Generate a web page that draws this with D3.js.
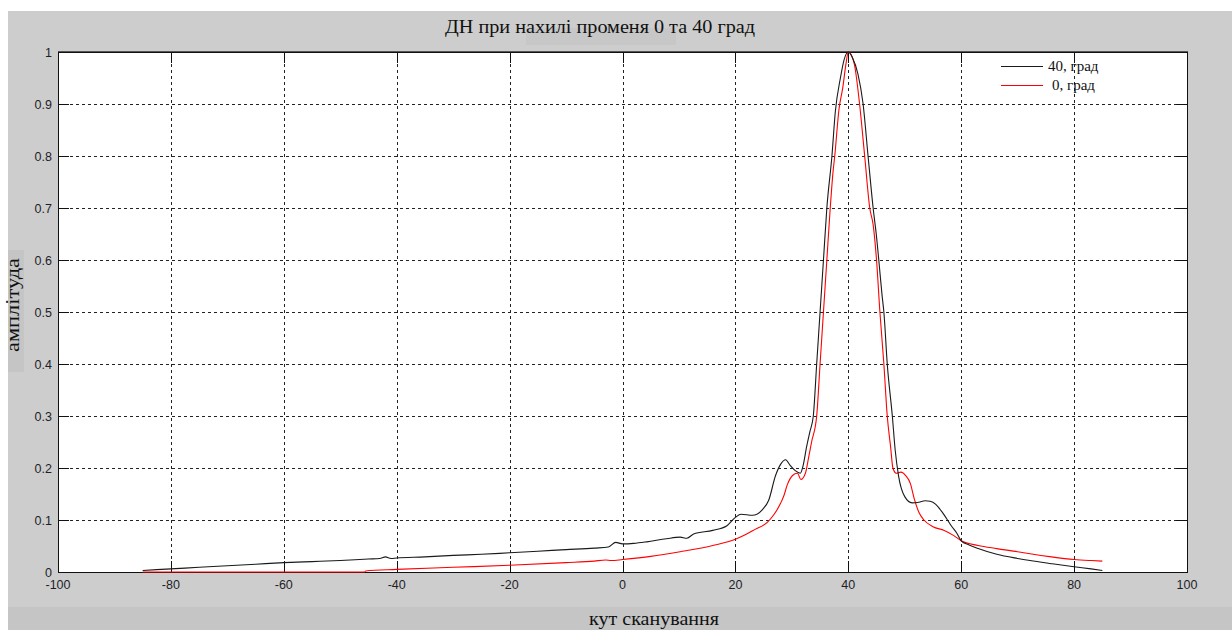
<!DOCTYPE html>
<html>
<head>
<meta charset="utf-8">
<script src="https://cdn.jsdelivr.net/npm/d3@7"></script>
<style>
  html, body { margin: 0; padding: 0; background: #ffffff; }
  svg { display: block; }
</style>
</head>
<body>
<svg id="chart" width="1232" height="630"></svg>
<script>
// Beam pattern at 40 degree tilt (black) and 0 degree (red)
const angle40 = [-85,-80,-75,-70,-65,-60,-55,-50,-45,-43,-42,-41,-40,-35,-30,-25,-20,-15,-10,-5,-2.5,-1.2,0,2,4.3,7.8,10.2,11.4,12.6,16,18.5,20,21,23,24.8,25.9,27.1,28,28.9,29.7,30.6,31.5,32,32.6,33.2,33.8,34.4,35,35.6,36.2,37.1,37.7,38.6,39.25,40,40.7,41.7,42.6,43.5,44.4,45,45.4,46,46.3,46.9,47.8,48.3,48.9,50,51.3,52.5,53.6,54.5,55.5,56.5,57.4,58.3,59.2,60,61.4,63,66.3,70,72.2,76,80,83,85];
const amp40 = [0.003,0.006,0.009,0.012,0.015,0.018,0.020,0.022,0.025,0.026,0.029,0.026,0.027,0.029,0.032,0.034,0.037,0.040,0.043,0.046,0.048,0.057,0.054,0.055,0.058,0.064,0.067,0.065,0.073,0.080,0.089,0.105,0.111,0.109,0.120,0.138,0.185,0.207,0.216,0.205,0.195,0.190,0.205,0.240,0.27,0.30,0.40,0.50,0.60,0.70,0.80,0.885,0.950,0.985,1.0,0.99,0.958,0.902,0.80,0.70,0.645,0.60,0.53,0.50,0.40,0.30,0.235,0.185,0.145,0.133,0.134,0.137,0.136,0.130,0.117,0.103,0.088,0.075,0.060,0.052,0.045,0.034,0.026,0.022,0.016,0.010,0.006,0.003];

const angle0 = [-85,-45.7,-45.5,-40,-30,-20,-10,-5,-3,-2,0,5,10.2,16,20,22,23.5,25.6,26.8,28,28.6,29.2,30.4,31,31.6,32.4,33,33.5,34.4,35,35.6,36.2,36.8,37.3,37.6,38.35,39,39.6,40,40.5,41.1,42,42.9,43.8,44.4,45,45.6,46.3,46.9,47.5,47.9,48.5,49.3,50.2,51,51.7,52.5,53.4,55,57,58.7,60,63,66.3,70,72.2,76,80,83,85];
const amp0 = [0,0,0.002,0.005,0.009,0.013,0.018,0.021,0.023,0.022,0.024,0.030,0.039,0.051,0.063,0.073,0.082,0.095,0.110,0.132,0.147,0.168,0.188,0.190,0.178,0.190,0.222,0.250,0.30,0.40,0.50,0.60,0.70,0.77,0.80,0.89,0.93,0.978,1.0,0.995,0.975,0.90,0.80,0.70,0.668,0.60,0.50,0.40,0.30,0.24,0.20,0.19,0.192,0.185,0.17,0.14,0.115,0.10,0.087,0.080,0.070,0.060,0.051,0.045,0.039,0.035,0.029,0.024,0.022,0.021];

const xTicks = [-100,-80,-60,-40,-20,0,20,40,60,80,100];
const yTicks = [0,0.1,0.2,0.3,0.4,0.5,0.6,0.7,0.8,0.9,1];
const seriesNames = ["40, град", "0, град"];
const seriesColors = ["#1a1a1a", "#ff0000"];

const svg = d3.select("#chart");
const W = 1232, H = 630;
const plot = { left: 58, right: 1187, top: 52, bottom: 572 };

// figure background
svg.append("rect").attr("x", 8).attr("y", 11).attr("width", W - 8).attr("height", H - 11).attr("fill", "#cdcdcd");
svg.append("rect").attr("x", 8).attr("y", 607).attr("width", W - 8).attr("height", H - 607).attr("fill", "#c5c5c5");
svg.append("rect").attr("x", 8).attr("y", 250).attr("width", 16).attr("height", 122).attr("fill", "#c5c5c5");
svg.append("rect").attr("x", 526).attr("y", 28).attr("width", 150).attr("height", 17).attr("fill", "#c7c7c7");

const x = d3.scaleLinear().domain([-100, 100]).range([plot.left, plot.right]);
const y = d3.scaleLinear().domain([0, 1]).range([plot.bottom, plot.top]);

// axes area
svg.append("rect")
  .attr("x", plot.left).attr("y", plot.top)
  .attr("width", plot.right - plot.left).attr("height", plot.bottom - plot.top)
  .attr("fill", "#ffffff");

const g = svg.append("g");
const tickLen = 11;

// dotted grid
g.selectAll(".vgrid").data(xTicks.filter(t => t > -100 && t < 100)).enter().append("line")
  .attr("x1", d => Math.round(x(d)) + 0.5).attr("x2", d => Math.round(x(d)) + 0.5)
  .attr("y1", plot.top).attr("y2", plot.bottom)
  .attr("stroke", "#222").attr("stroke-width", 1).attr("stroke-dasharray", "3,3");
g.selectAll(".hgrid").data(yTicks.filter(t => t > 0 && t < 1)).enter().append("line")
  .attr("y1", d => Math.round(y(d)) + 0.5).attr("y2", d => Math.round(y(d)) + 0.5)
  .attr("x1", plot.left).attr("x2", plot.right)
  .attr("stroke", "#222").attr("stroke-width", 1).attr("stroke-dasharray", "3,3");

// inward tick marks on all four sides
xTicks.forEach(t => {
  const px = Math.round(x(t)) + 0.5;
  g.append("line").attr("x1", px).attr("x2", px).attr("y1", plot.bottom).attr("y2", plot.bottom - tickLen).attr("stroke", "#111");
  g.append("line").attr("x1", px).attr("x2", px).attr("y1", plot.top).attr("y2", plot.top + tickLen).attr("stroke", "#111");
});
yTicks.forEach(t => {
  const py = Math.round(y(t)) + 0.5;
  g.append("line").attr("y1", py).attr("y2", py).attr("x1", plot.left).attr("x2", plot.left + tickLen).attr("stroke", "#111");
  g.append("line").attr("y1", py).attr("y2", py).attr("x1", plot.right).attr("x2", plot.right - tickLen).attr("stroke", "#111");
});

// frame
g.append("rect")
  .attr("x", plot.left + 0.5).attr("y", plot.top + 0.5)
  .attr("width", plot.right - plot.left).attr("height", plot.bottom - plot.top)
  .attr("fill", "none").attr("stroke", "#111").attr("stroke-width", 1);
g.append("line").attr("x1", plot.left).attr("x2", plot.right + 1)
  .attr("y1", plot.top - 0.5).attr("y2", plot.top - 0.5).attr("stroke", "#555");

// tick labels
svg.append("g").selectAll("text").data(xTicks).enter().append("text")
  .attr("x", d => x(d)).attr("y", 589)
  .attr("text-anchor", "middle")
  .attr("font-family", "Liberation Sans, Arial, sans-serif").attr("font-size", 12.5)
  .attr("fill", "#1e1e28")
  .text(d => d);
svg.append("g").selectAll("text").data(yTicks).enter().append("text")
  .attr("x", 52).attr("y", d => y(d) + 4.5)
  .attr("text-anchor", "end")
  .attr("font-family", "Liberation Sans, Arial, sans-serif").attr("font-size", 12.5)
  .attr("fill", "#1e1e28")
  .text(d => d);

// curves
const line = d3.line().x(d => x(d[0])).y(d => y(d[1])).curve(d3.curveMonotoneX);
const series = [
  d3.zip(angle0, amp0),
  d3.zip(angle40, amp40)
];
const order = [1, 0];
series.forEach((pts, i) => {
  g.append("path")
    .datum(pts)
    .attr("d", line)
    .attr("fill", "none")
    .attr("stroke", seriesColors[order[i]])
    .attr("stroke-width", 1.1)
    .attr("stroke-linejoin", "round");
});

// legend
const legendY = [66, 85];
const legendTextX = [1048, 1052];
seriesNames.forEach((name, i) => {
  svg.append("line")
    .attr("x1", 1001).attr("x2", 1043)
    .attr("y1", legendY[i] + 0.5).attr("y2", legendY[i] + 0.5)
    .attr("stroke", seriesColors[i]).attr("stroke-width", 1);
  svg.append("text")
    .attr("x", legendTextX[i]).attr("y", legendY[i] + 5)
    .attr("font-family", "Liberation Serif, Times New Roman, serif").attr("font-size", 15)
    .attr("fill", "#111")
    .text(name);
});

// title and axis labels
svg.append("text")
  .attr("x", 600).attr("y", 33)
  .attr("text-anchor", "middle")
  .attr("font-family", "Liberation Serif, Times New Roman, serif").attr("font-size", 19)
  .attr("fill", "#111")
  .attr("textLength", 310).attr("lengthAdjust", "spacingAndGlyphs")
  .text("ДН при нахилі променя 0 та 40 град");

svg.append("text")
  .attr("x", 654).attr("y", 625)
  .attr("text-anchor", "middle")
  .attr("font-family", "Liberation Serif, Times New Roman, serif").attr("font-size", 18)
  .attr("fill", "#111")
  .attr("textLength", 130).attr("lengthAdjust", "spacingAndGlyphs")
  .text("кут сканування");

svg.append("text")
  .attr("transform", "translate(19,305) rotate(-90)")
  .attr("text-anchor", "middle")
  .attr("font-family", "Liberation Serif, Times New Roman, serif").attr("font-size", 19)
  .attr("fill", "#111")
  .attr("textLength", 94).attr("lengthAdjust", "spacingAndGlyphs")
  .text("амплітуда");
</script>
</body>
</html>
